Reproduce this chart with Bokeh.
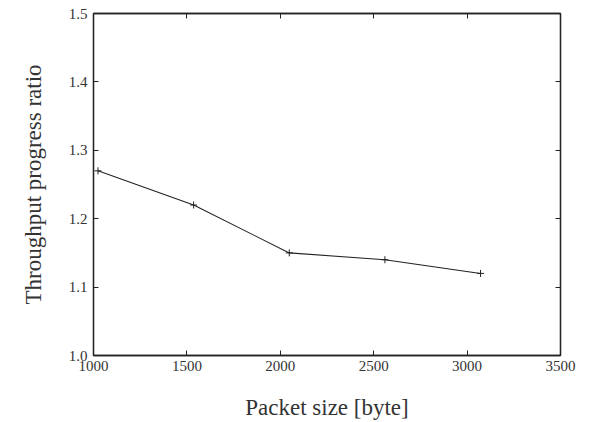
from bokeh.plotting import figure
from bokeh.models import Range1d, FixedTicker, LinearAxis, NumeralTickFormatter, CustomJSTickFormatter
from bokeh.embed import file_html
from bokeh.resources import INLINE

packet_size = [1024, 1536, 2048, 2560, 3072]
ratio = [1.27, 1.22, 1.15, 1.14, 1.12]
x_ticks = [1000, 1500, 2000, 2500, 3000, 3500]
y_ticks = [1.0, 1.1, 1.2, 1.3, 1.4, 1.5]

FONT = "Liberation Serif"
TXT = "#333333"

p = figure(width=592, height=422, output_backend="svg", toolbar_location=None,
           x_range=Range1d(1000, 3500), y_range=Range1d(1.0, 1.5),
           min_border_left=93, min_border_right=32, min_border_top=13, min_border_bottom=67)
p.xgrid.visible = False
p.ygrid.visible = False
p.outline_line_color = "#222222"
p.outline_line_width = 1.3
p.background_fill_color = "white"
p.border_fill_color = "white"

p.line(packet_size, ratio, line_color="#222222", line_width=1.1)
p.scatter(packet_size, ratio, marker="cross", size=7, line_color="#222222", line_width=1)

p.xaxis.ticker = FixedTicker(ticks=x_ticks)
p.yaxis.ticker = FixedTicker(ticks=y_ticks)
p.yaxis.formatter = NumeralTickFormatter(format="0.0")
for ax in [p.xaxis, p.yaxis]:
    ax.major_tick_in = 5
    ax.major_tick_out = 0
    ax.minor_tick_line_color = None
    ax.major_tick_line_color = "#222222"
    ax.axis_line_color = "#222222"
    ax.axis_line_width = 1.3
    ax.major_label_text_font = FONT
    ax.major_label_text_font_size = "15px"
    ax.major_label_text_color = TXT
    ax.axis_label_text_font = FONT
    ax.axis_label_text_font_size = "23px"
    ax.axis_label_text_font_style = "normal"
    ax.axis_label_text_color = TXT

p.xaxis.axis_label = "Packet size [byte]"
p.xaxis.major_label_standoff = 5
p.xaxis.axis_label_standoff = 21
p.yaxis.axis_label = "Throughput progress ratio"
p.yaxis.major_label_standoff = 6
p.yaxis.axis_label_standoff = 20

def frame_axis(ticks):
    ax = LinearAxis(ticker=FixedTicker(ticks=ticks),
                    formatter=CustomJSTickFormatter(code="return ''"))
    ax.major_tick_in = 5
    ax.major_tick_out = 0
    ax.minor_tick_line_color = None
    ax.major_tick_line_color = "#222222"
    ax.axis_line_color = "#222222"
    ax.axis_line_width = 1.3
    ax.major_label_standoff = 0
    return ax

p.add_layout(frame_axis(x_ticks), "above")
p.add_layout(frame_axis(y_ticks), "right")

open("out.html", "w").write(file_html(p, INLINE))
